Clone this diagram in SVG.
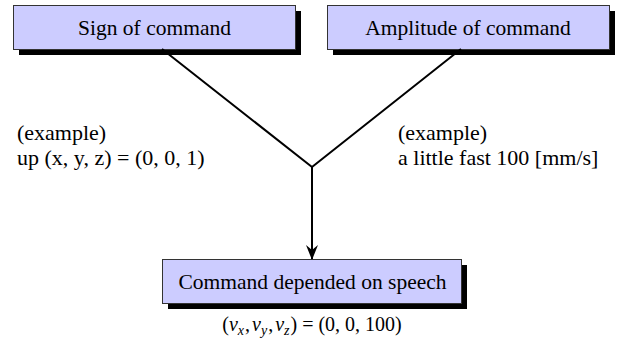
<svg xmlns="http://www.w3.org/2000/svg" width="624" height="343" viewBox="0 0 624 343">
  <style>
    .box { fill: #ccccff; stroke: #333333; stroke-width: 1; }
    .shadow { fill: #000000; }
    text { font-family: 'Liberation Serif', 'DejaVu Serif', 'Times New Roman', Times, serif; font-size: 21.5px; fill: #000000; }
    .note { font-size: 22px; }
    .formula { font-size: 20px; }
    .sub { font-size: 14px; font-style: italic; }
    .var { font-style: italic; }
    .wire { stroke: #000000; stroke-width: 2; fill: none; }
  </style>
  <defs>
    <marker id="arrowhead" markerWidth="16" markerHeight="12" refX="15" refY="6" orient="auto" markerUnits="userSpaceOnUse" viewBox="0 0 16 12">
      <path d="M16,6 L1,0 L6,6 L1,12 Z" fill="#000000"/>
    </marker>
  </defs>

  <rect width="624" height="343" fill="#ffffff"/>

  <g id="sign-of-command">
    <rect class="shadow" x="19" y="11" width="282" height="44"/>
    <rect class="box" x="13.5" y="5.5" width="282" height="44"/>
    <text x="154.5" y="35" text-anchor="middle">Sign of command</text>
  </g>

  <g id="amplitude-of-command">
    <rect class="shadow" x="333" y="11" width="282" height="44"/>
    <rect class="box" x="327.5" y="5.5" width="282" height="44"/>
    <text x="468" y="35" text-anchor="middle">Amplitude of command</text>
  </g>

  <g id="command-depended-on-speech">
    <rect class="shadow" x="168" y="265" width="299" height="44"/>
    <rect class="box" x="162.5" y="259.5" width="299" height="44"/>
    <text x="312.5" y="289" text-anchor="middle">Command depended on speech</text>
    <text class="formula" x="312" y="331" text-anchor="middle">(<tspan class="var">v</tspan><tspan class="sub" dy="4">x</tspan><tspan dy="-4" dx="1">,</tspan><tspan class="var" dx="2">v</tspan><tspan class="sub" dy="4">y</tspan><tspan dy="-4" dx="1">,</tspan><tspan class="var" dx="2">v</tspan><tspan class="sub" dy="4">z</tspan><tspan dy="-4" dx="1">) = (0, 0, 100)</tspan></text>
  </g>

  <g id="connectors">
    <polyline class="wire" points="162,49 312,167 461,49"/>
    <line class="wire" x1="312" y1="167" x2="312" y2="259" marker-end="url(#arrowhead)"/>
  </g>

  <g id="examples" class="note">
    <text class="note" x="17" y="140">(example)</text>
    <text class="note" x="17" y="165">up (x, y, z) = (0, 0, 1)</text>
    <text class="note" x="398" y="140">(example)</text>
    <text class="note" x="398" y="165">a little fast 100 [mm/s]</text>
  </g>
</svg>
